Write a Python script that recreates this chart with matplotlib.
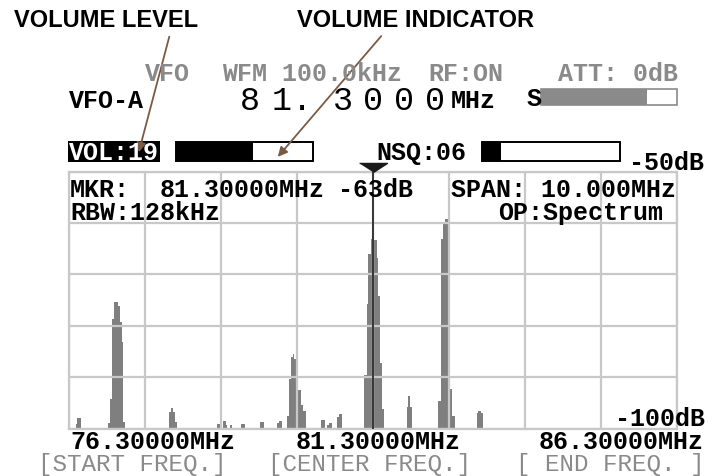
import matplotlib.pyplot as plt
from matplotlib.patches import Rectangle

# spectrum segments: start MHz, end MHz, level dB
seg_lo = [76.410, 76.437,
          76.946, 76.969, 77.012, 77.040, 77.106, 77.139, 77.167, 77.193,
          77.945, 77.973, 78.015, 78.043,
          78.734, 78.838, 78.882, 78.948, 79.129, 79.441, 79.726, 79.760,
          79.881, 79.918, 79.951, 79.979, 80.001, 80.045, 80.071, 80.111, 80.154,
          80.440, 80.538, 80.580, 80.703, 80.746,
          81.157, 81.196, 81.223, 81.262, 81.295, 81.361, 81.387, 81.415, 81.443,
          81.854, 81.881, 81.913,
          82.374, 82.418, 82.456, 82.485, 82.538, 82.571, 82.604,
          83.006, 83.032, 83.076]
seg_hi = [76.437, 76.502,
          76.969, 77.012, 77.040, 77.106, 77.139, 77.167, 77.193, 77.221,
          77.973, 78.015, 78.043, 78.071,
          78.783, 78.882, 78.900, 78.976, 79.195, 79.507, 79.760, 79.798,
          79.918, 79.951, 79.979, 80.001, 80.045, 80.071, 80.111, 80.154, 80.198,
          80.515, 80.580, 80.621, 80.746, 80.795,
          81.196, 81.223, 81.262, 81.295, 81.361, 81.387, 81.415, 81.443, 81.481,
          81.881, 81.913, 81.936,
          82.418, 82.456, 82.485, 82.538, 82.571, 82.604, 82.649,
          83.032, 83.076, 83.104]
seg_db = [-99.1, -98.0,
          -99.0, -94.3, -78.7, -75.4, -76.2, -79.3, -83.2, -98.8,
          -96.8, -96.0, -96.8, -98.8,
          -99.1, -98.6, -99.4, -99.4, -99.2, -98.7, -99.0, -98.5,
          -97.6, -90.4, -86.1, -85.6, -86.5, -90.4, -92.5, -95.4, -96.6,
          -98.3, -99.3, -98.9, -97.8, -97.2,
          -89.5, -75.8, -66.0, -63.1, -63.4, -66.9, -74.2, -87.3, -96.2,
          -95.9, -93.6, -95.9,
          -94.6, -63.1, -59.9, -59.2, -70.3, -92.3, -97.5,
          -97.0, -96.6, -97.0]

start_freq = 76.3
center_freq = 81.3
end_freq = 86.3
ref_top = -50
ref_bottom = -100
marker_freq = 81.3
vol_level = 19
vol_fill = 0.56
nsq_fill = 0.14
s_fill = 0.78
big_digits = ['8', '1', '.', '3', '0', '0', '0']
big_digit_x = [240, 272, 292, 333, 363, 394, 425]

MONO = 'Liberation Mono'
GRAY_TXT = '#8a8a8a'
BAR = '#7f7f7f'
GRID = '#c8c8c8'
ARROW = '#7a5a44'


def draw_spectrum(fig):
    ax = fig.add_axes([69 / 709, 1 - 429.5 / 477, 608 / 709, 257 / 477])
    widths = [h - l for l, h in zip(seg_lo, seg_hi)]
    heights = [d - ref_bottom for d in seg_db]
    ax.bar(seg_lo, heights, width=widths, bottom=ref_bottom, align='edge',
           color=BAR, linewidth=0, zorder=1)
    ax.set_xlim(start_freq, end_freq)
    ax.set_ylim(ref_bottom, ref_top)
    step = (end_freq - start_freq) / 8
    ax.set_xticks([start_freq + i * step for i in range(9)])
    ax.set_yticks(range(ref_bottom, ref_top + 1, 10))
    ax.set_axisbelow(False)
    ax.grid(True, color=GRID, linewidth=1.6)
    ax.tick_params(length=0, labelbottom=False, labelleft=False)
    for sp in ax.spines.values():
        sp.set_color(GRID)
        sp.set_linewidth(1.6)
    ax.axvline(marker_freq, color='#2a2a2a', linewidth=1.3, zorder=4)
    ax.plot([marker_freq], [ref_top], marker=[(-1, 0.65), (1, 0.65), (0, 0)],
            markersize=20, color='#1a1a1a', clip_on=False, zorder=5)
    return ax


def draw_screen(fig):
    ov = fig.add_axes([0, 0, 1, 1])
    ov.set_xlim(0, 709)
    ov.set_ylim(477, 0)
    ov.axis('off')

    lab = dict(family=['Liberation Sans Narrow', 'Liberation Sans'],
               fontweight='bold', fontsize=17, va='baseline')
    ov.text(14, 27, 'VOLUME LEVEL', **lab)
    ov.text(297, 27, 'VOLUME INDICATOR', **lab)
    ov.annotate('', xy=(138, 156), xytext=(170, 35),
                arrowprops=dict(arrowstyle='-|>', color=ARROW, lw=1.3, mutation_scale=14))
    ov.annotate('', xy=(276, 160), xytext=(383, 35),
                arrowprops=dict(arrowstyle='-|>', color=ARROW, lw=1.3, mutation_scale=14))

    mono = dict(family=MONO, fontweight='bold', fontsize=18, va='baseline')
    ov.text(145, 81, 'VFO', color=GRAY_TXT, **mono)
    ov.text(222, 81, 'WFM 100.0kHz', color=GRAY_TXT, **mono)
    ov.text(428, 81, 'RF:ON', color=GRAY_TXT, **mono)
    ov.text(678, 81, 'ATT: 0dB', color=GRAY_TXT, ha='right', **mono)

    ov.text(69, 108, 'VFO-A', **mono)
    for ch, x in zip(big_digits, big_digit_x):
        ov.text(x, 110, ch, family=MONO, fontsize=24, va='baseline')
    ov.text(451, 108, 'MHz', **mono)
    ov.text(527, 106, 'S', **mono)
    ov.add_patch(Rectangle((541, 90), 136, 16, facecolor='white', edgecolor='#8a8a8a', lw=1.2))
    ov.add_patch(Rectangle((541, 90), 136 * s_fill, 16, facecolor='#8a8a8a', lw=0))

    # volume / squelch row
    ov.add_patch(Rectangle((68, 142), 92, 21, facecolor='black', lw=0))
    ov.text(69, 160, 'VOL:%d' % vol_level, color='white', **mono)
    ov.add_patch(Rectangle((176, 143), 137, 19, facecolor='white', edgecolor='black', lw=1.4))
    ov.add_patch(Rectangle((176, 143), 137 * vol_fill, 19, facecolor='black', lw=0))
    ov.text(376, 160, 'NSQ:06', **mono)
    ov.add_patch(Rectangle((482, 143), 138, 19, facecolor='white', edgecolor='black', lw=1.4))
    ov.add_patch(Rectangle((482, 143), 138 * nsq_fill, 19, facecolor='black', lw=0))
    ov.text(704, 170, '-50dB', ha='right', **mono)

    ov.text(70, 197, 'MKR:', **mono)
    ov.text(160, 197, '81.30000MHz', **mono)
    ov.text(338, 197, '-63dB', **mono)
    ov.text(676, 197, 'SPAN: 10.000MHz', ha='right', **mono)
    ov.text(70, 220, 'RBW:128kHz', **mono)
    ov.text(663, 220, 'OP:Spectrum', ha='right', **mono)

    ov.text(705, 426, '-100dB', ha='right', **mono)
    ov.text(70, 449, '76.30000MHz', **mono)
    ov.text(296, 449, '81.30000MHz', **mono)
    ov.text(704, 449, '86.30000MHz', ha='right', **mono)
    brk = dict(family=MONO, fontsize=17.5, va='baseline', color=GRAY_TXT)
    ov.text(38, 471, '[START FREQ.]', **brk)
    ov.text(268, 471, '[CENTER FREQ.]', **brk)
    ov.text(705, 471, '[ END FREQ. ]', ha='right', **brk)


def main_function():
    fig = plt.figure(figsize=(7.09, 4.77), dpi=100)
    draw_spectrum(fig)
    draw_screen(fig)
    fig.savefig('out.png', dpi=100)


if __name__ == '__main__':
    main_function()
